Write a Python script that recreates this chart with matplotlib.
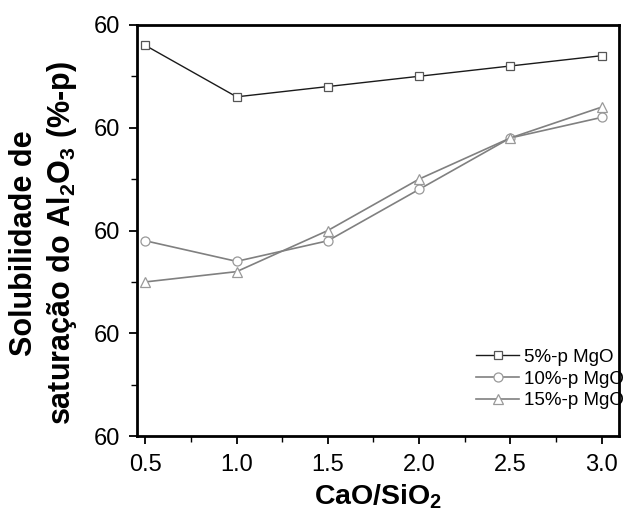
import matplotlib
matplotlib.use('Agg')
import matplotlib.pyplot as plt
from matplotlib.ticker import FixedLocator, MultipleLocator, FixedFormatter

plt.rcParams['font.family'] = ['Liberation Sans', 'DejaVu Sans']
plt.rcParams['mathtext.fontset'] = 'custom'
plt.rcParams['mathtext.rm'] = 'Liberation Sans'
plt.rcParams['mathtext.bf'] = 'Liberation Sans:bold'

# data
ratio = [0.5, 1.0, 1.5, 2.0, 2.5, 3.0]
mgo5 = [38, 33, 34, 35, 36, 37]
mgo10 = [19, 17, 19, 24, 29, 31]
mgo15 = [15, 16, 20, 25, 29, 32]
ytick_vals = [0, 10, 20, 30, 40]
ytick_labels = ['60', '60', '60', '60', '60']

fig = plt.figure(figsize=(6.44, 5.18), dpi=100)
ax = fig.add_axes([0.213, 0.158, 0.748, 0.794])

ax.plot(ratio, mgo5, color='#1a1a1a', lw=1.0, marker='s', ms=6,
        mfc='white', mec='#555555', mew=0.9, label='5%-p MgO')
ax.plot(ratio, mgo10, color='#808080', lw=1.2, marker='o', ms=6.5,
        mfc='white', mec='#999999', mew=0.9, label='10%-p MgO')
ax.plot(ratio, mgo15, color='#808080', lw=1.2, marker='^', ms=7,
        mfc='white', mec='#999999', mew=0.9, label='15%-p MgO')

ax.set_xlim(0.455, 3.095)
ax.set_ylim(0, 40)
ax.xaxis.set_major_locator(FixedLocator(ratio))
ax.xaxis.set_minor_locator(MultipleLocator(0.25))
ax.set_xticklabels(['0.5', '1.0', '1.5', '2.0', '2.5', '3.0'])
ax.yaxis.set_major_locator(FixedLocator(ytick_vals))
ax.yaxis.set_major_formatter(FixedFormatter(ytick_labels))
ax.yaxis.set_minor_locator(MultipleLocator(5))

for s in ax.spines.values():
    s.set_linewidth(2)
ax.tick_params(which='major', direction='out', length=6, width=1.3, labelsize=17)
ax.tick_params(axis='y', which='major', pad=6)
ax.tick_params(axis='x', which='major', pad=7)
ax.tick_params(which='minor', direction='out', length=4, width=1.0)

ax.set_xlabel(r'CaO/SiO$_\mathbf{2}$', fontsize=20.5, fontweight='bold', labelpad=4)
ax.set_ylabel('Solubilidade de\n' + r'saturação do Al$_\mathbf{2}$O$_\mathbf{3}$ (%-p)',
              fontsize=22, fontweight='bold', linespacing=1.25)
ax.yaxis.set_label_coords(-0.12, 0.47)

ax.legend(loc='lower right', bbox_to_anchor=(1.01, 0.065), frameon=False, fontsize=13.5,
          handlelength=2.3, handletextpad=0.25, labelspacing=0.25, borderaxespad=0,
          borderpad=0)

fig.savefig('out.png', dpi=100)
